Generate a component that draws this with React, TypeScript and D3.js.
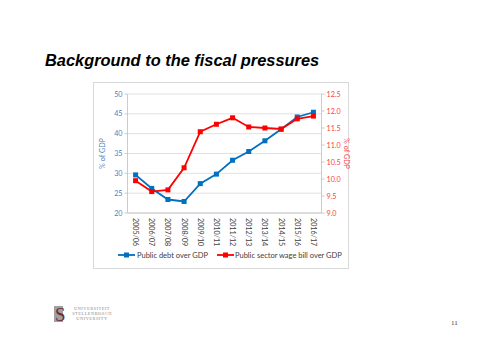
import React from 'react';
import * as d3 from 'd3';

const years = ['2005/06', '2006/07', '2007/08', '2008/09', '2009/10', '2010/11', '2011/12', '2012/13', '2013/14', '2014/15', '2015/16', '2016/17'];
const debt = [29.6, 26.2, 23.4, 22.9, 27.4, 29.8, 33.3, 35.5, 38.2, 41.1, 44.2, 45.4];
const wageBill = [9.95, 9.63, 9.68, 10.33, 11.39, 11.61, 11.8, 11.53, 11.5, 11.47, 11.77, 11.85];
const leftTicks = [20, 25, 30, 35, 40, 45, 50];
const rightTicks = [9.0, 9.5, 10.0, 10.5, 11.0, 11.5, 12.0, 12.5];

const BLUE = '#0070c0';
const RED = '#ff0000';
const BLUE_TXT = '#4f81bd';
const RED_TXT = '#ff4040';
const FONT = 'Lato, "Open Sans", sans-serif';

const App: React.FC = () => {
  const plot = { left: 127.5, right: 321.5, top: 94, bottom: 213 };

  const x = d3.scaleBand<string>().domain(years).range([plot.left, plot.right]);
  const yL = d3.scaleLinear().domain([20, 50]).range([plot.bottom, plot.top]);
  const yR = d3.scaleLinear().domain([9, 12.5]).range([plot.bottom, plot.top]);
  const cx = (d: string) => (x(d) ?? 0) + x.bandwidth() / 2;

  const debtLine = d3.line<number>().x((_, i) => cx(years[i])).y((d) => yL(d));
  const wageLine = d3.line<number>().x((_, i) => cx(years[i])).y((d) => yR(d));

  return (
    <svg width={500} height={352} style={{ position: 'absolute', left: 0, top: 0, background: '#fff' }}>
      <text x={45} y={66} fontFamily='"Liberation Sans", Arial, sans-serif' fontWeight="bold" fontStyle="italic" fontSize={16.4} fill="#000">
        Background to the fiscal pressures
      </text>

      {/* chart frame */}
      <rect x={93.5} y={82.5} width={255} height={186} fill="#fff" stroke="#d9d9d9" strokeWidth={1} />

      {/* gridlines */}
      {leftTicks.map((t) => (
        <line key={t} x1={plot.left} x2={plot.right} y1={yL(t)} y2={yL(t)} stroke="#d9d9d9" strokeWidth={0.8} />
      ))}
      <line x1={plot.left} x2={plot.left} y1={plot.top} y2={plot.bottom} stroke="#bfbfbf" strokeWidth={0.8} />
      <line x1={plot.right} x2={plot.right} y1={plot.top} y2={plot.bottom} stroke="#bfbfbf" strokeWidth={0.8} />
      <line x1={plot.left} x2={plot.right} y1={plot.bottom} y2={plot.bottom} stroke="#bfbfbf" strokeWidth={0.8} />

      {/* left ticks */}
      {leftTicks.map((t) => (
        <g key={t}>
          <line x1={plot.left - 3} x2={plot.left} y1={yL(t)} y2={yL(t)} stroke="#bfbfbf" strokeWidth={0.8} />
          <text x={plot.left - 5} y={yL(t) + 2.5} textAnchor="end" fontFamily={FONT} fontSize={7.2} fill={BLUE_TXT}>
            {t}
          </text>
        </g>
      ))}
      {/* right ticks */}
      {rightTicks.map((t) => (
        <g key={t}>
          <line x1={plot.right} x2={plot.right + 3} y1={yR(t)} y2={yR(t)} stroke="#bfbfbf" strokeWidth={0.8} />
          <text x={plot.right + 5} y={yR(t) + 2.5} fontFamily={FONT} fontSize={7.2} fill={RED_TXT}>
            {t.toFixed(1)}
          </text>
        </g>
      ))}

      {/* x labels */}
      {years.map((y) => (
        <text key={y} transform={`translate(${cx(y) - 2.5},${plot.bottom + 5}) rotate(90)`} fontFamily={FONT} fontSize={7.2} fill="#404040">
          {y}
        </text>
      ))}

      {/* axis titles */}
      <text transform={`translate(105,${(plot.top + plot.bottom) / 2}) rotate(-90)`} textAnchor="middle" fontFamily={FONT} fontSize={7.2} fill={BLUE_TXT}>
        % of GDP
      </text>
      <text transform={`translate(344,${(plot.top + plot.bottom) / 2}) rotate(90)`} textAnchor="middle" fontFamily={FONT} fontSize={7.2} fill={RED_TXT}>
        % of GDP
      </text>

      {/* series */}
      <path d={debtLine(debt) ?? ''} fill="none" stroke={BLUE} strokeWidth={1.8} />
      {debt.map((d, i) => (
        <rect key={i} x={cx(years[i]) - 2.5} y={yL(d) - 2.5} width={5} height={5} fill={BLUE} />
      ))}
      <path d={wageLine(wageBill) ?? ''} fill="none" stroke={RED} strokeWidth={1.8} />
      {wageBill.map((d, i) => (
        <rect key={i} x={cx(years[i]) - 2.5} y={yR(d) - 2.5} width={5} height={5} fill={RED} />
      ))}

      {/* legend */}
      <line x1={118} x2={135} y1={255} y2={255} stroke={BLUE} strokeWidth={1.8} />
      <rect x={124} y={252.5} width={5} height={5} fill={BLUE} />
      <text x={137} y={257.5} fontFamily={FONT} fontSize={7.5} fill="#404040">Public debt over GDP</text>
      <line x1={217} x2={234} y1={255} y2={255} stroke={RED} strokeWidth={1.8} />
      <rect x={223} y={252.5} width={5} height={5} fill={RED} />
      <text x={235} y={257.5} fontFamily={FONT} fontSize={7.5} fill="#404040">Public sector wage bill over GDP</text>

      {/* footer logo */}
      <rect x={54} y={306} width={9} height={16} fill="#a0a0a0" />
      <text x={55} y={321} fontFamily='"Liberation Serif", serif' fontSize={19} fill="#6b2a3a">S</text>
      <g fontFamily='"Liberation Serif", serif' fontSize={4.4} fill="#8a8a8a" letterSpacing={0.5} textAnchor="middle">
        <text x={92} y={309.5}>UNIVERSITEIT</text>
        <text x={92} y={314.5}>STELLENBOSCH</text>
        <text x={92} y={319.5}>UNIVERSITY</text>
      </g>
      <text x={451} y={325} fontFamily='"Liberation Serif", serif' fontSize={7} fill="#333">11</text>
    </svg>
  );
};

export default App;
